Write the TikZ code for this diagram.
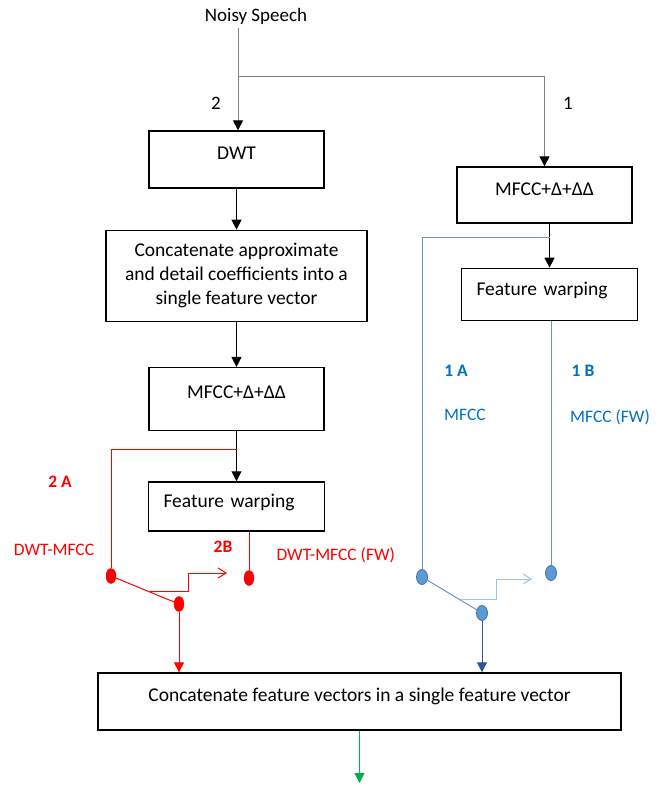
\documentclass[tikz,border=0pt]{standalone}
\usepackage{fontspec}
\setmainfont{Carlito}
\usetikzlibrary{shapes, arrows.meta, calc, positioning}
\definecolor{textblue}{HTML}{0070C0}
\definecolor{lineblue}{HTML}{6F8FCF}
\definecolor{paleblue}{HTML}{9DC3E6}
\definecolor{darkblue}{HTML}{2F5597}
\definecolor{dotfill}{HTML}{5B9BD5}
\definecolor{dotedge}{HTML}{41719C}
\definecolor{okgreen}{HTML}{00B050}
\tikzstyle{block} = [rectangle, draw, line width=1.3pt, minimum width=175pt, align=center, font=\fontsize{19.5}{24}\selectfont]
\tikzstyle{fwblock} = [block, text width=146pt, align=left, inner xsep=15pt]
\tikzstyle{reddot} = [ellipse, draw=red, fill=red, minimum width=10pt, minimum height=15pt, inner sep=0pt]
\tikzstyle{bluedot} = [ellipse, draw=dotedge, fill=dotfill, line width=0.8pt, minimum width=11pt, minimum height=15pt, inner sep=0pt]
\tikzstyle{feed} = [draw=gray, line width=1pt, -{Triangle[black, length=10pt, width=10pt]}]
\tikzstyle{flow} = [draw, line width=1pt, -{Triangle[length=10pt, width=10pt]}]
\tikzstyle{redline} = [draw=red, line width=1pt]
\tikzstyle{blueline} = [draw=lineblue, line width=1pt]
\tikzstyle{redswitch} = [redline, -{Straight Barb[length=8pt, width=10pt]}]
\tikzstyle{blueswitch} = [draw=paleblue, line width=1pt, -{Straight Barb[length=8pt, width=10pt]}]
\tikzstyle{tag} = [font=\fontsize{17.5}{21}\selectfont]

\begin{document}
\begin{tikzpicture}[x=1pt, y=-1pt]
\useasboundingbox (0,0) rectangle (667,787);
% route 2: DWT chain
\node[font=\fontsize{19}{24}\selectfont] (speech) at (256,16) {Noisy Speech};
\node[block, minimum height=57pt, text depth=13pt] (dwt) at (236.5,159.5) {DWT};
\node[block, minimum width=261pt, minimum height=91pt, below=41pt of dwt] (catA) {Concatenate approximate\\and detail coefficients into a\\single feature vector};
\node[block, minimum height=63pt, text depth=13pt, below=45pt of catA] (mfccL) {MFCC+Δ+ΔΔ};
\node[fwblock, minimum height=49pt, text depth=11pt, below=50pt of mfccL] (fwL) {Feature warping};
% route 1: MFCC chain
\node[block, minimum height=56pt, text depth=12pt] (mfccR) at (544.5,195) {MFCC+Δ+ΔΔ};
\node[fwblock, minimum height=52pt, text depth=12pt, below=44pt of mfccR, xshift=5pt] (fwR) {Feature warping};
\node[block, minimum width=523pt, minimum height=57pt, text depth=13pt] (catB) at (359.5,701.5) {Concatenate feature vectors in a single feature vector};

\node[reddot] (dA1) at (111,576) {};
\node[reddot] (dA2) at (249,578) {};
\node[reddot] (dAout) at (179,604) {};
\node[bluedot] (dB1) at (422,577) {};
\node[bluedot] (dB2) at (551,573) {};
\node[bluedot] (dBout) at (482,613) {};

\coordinate (split) at (238,76);
\coordinate (tapL) at (mfccL.south |- 0,449);
\coordinate (tapR) at (fwR.north |- 0,237);
\coordinate (kneeL) at ($(dA1)!0.57!(dAout)$);
\coordinate (kneeR) at ($(dB1)!0.63!(dBout)$);
\coordinate (swL) at (227,573);
\coordinate (swR) at (532,579);
\coordinate (result) at (catB.south |- 0,783);

\draw[feed] (speech.south -| split) -- (split |- dwt.north);
\draw[feed] (split) -| (mfccR.north);
\draw[flow] (dwt.south) -- (catA.north);
\draw[flow] (catA.south) -- (mfccL.north);
\draw[flow] (mfccL.south) -- (fwL.north);
\draw[flow] (mfccR.south -| fwR.north) -- (fwR.north);

% red taps
\draw[redline] (tapL) -| (dA1);
\draw[redline] (dA2 |- fwL.south) -- (dA2);
\draw[redline] (dA1) -- (dAout);
\draw[redswitch] (kneeL) -| (188,573) -- (swL);
\draw[redline, -{Triangle[length=10pt, width=10pt]}] (dAout) -- (dAout |- catB.north);

% blue taps
\draw[blueline] (tapR) -| (dB1);
\draw[blueline] (dB2 |- fwR.south) -- (dB2);
\draw[blueline] (dB1) -- (dBout);
\draw[blueswitch] (kneeR) -| (496,579) -- (swR);
\draw[draw=darkblue, line width=1pt, -{Triangle[length=10pt, width=10pt]}] (dBout) -- (dBout |- catB.north);
\draw[draw=okgreen, line width=1pt, -{Triangle[length=10pt, width=10pt]}] (catB.south) -- (result);

\node[font=\fontsize{19}{24}\selectfont] (two) at (216,103) {2};
\node[font=\fontsize{19}{24}\selectfont] (one) at (568,103) {1};
\node[tag, text=red] (l2a) at (60,482) {\bfseries 2 A};
\node[tag, text=red] (n2a) at (54,550) {DWT-MFCC};
\node[tag, text=red] (l2b) at (223,547) {\bfseries 2B};
\node[tag, text=red, anchor=west] (n2b) at (273,555) {DWT-MFCC (FW)};
\node[tag, text=textblue] (l1a) at (456,371) {\bfseries 1 A};
\node[tag, text=textblue] (n1a) at (465,415) {MFCC};
\node[tag, text=textblue] (l1b) at (583,371) {\bfseries 1 B};
\node[tag, text=textblue] (n1b) at (610,417) {MFCC (FW)};
\end{tikzpicture}
\end{document}
